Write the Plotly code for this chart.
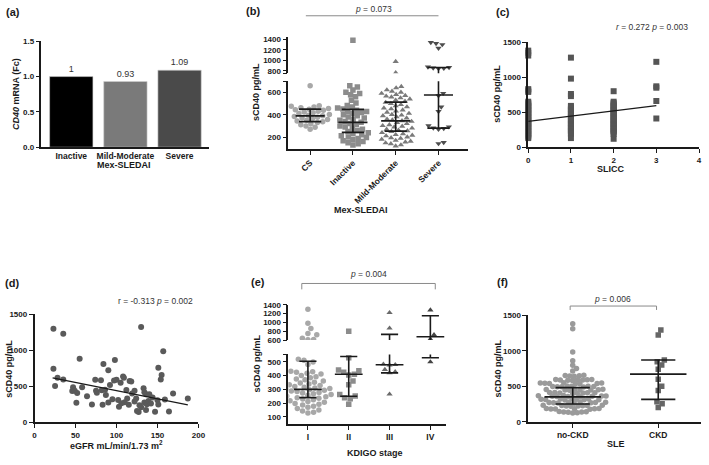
import numpy as np
import plotly.graph_objects as go

W, H = 709, 465
FONT = "Arial, 'Liberation Sans', sans-serif"
INK = "#1a1a1a"

# ---------------- data ----------------
a_groups = ["Inactive", "Mild-Moderate", "Severe"]
a_cd40_fc = [1.0, 0.93, 1.09]

b_groups = ["CS", "Inactive", "Mild-Moderate", "Severe"]
b_cs = [660, 480, 475, 470, 462, 455, 450, 445, 440, 432, 425, 418, 410, 402, 396,
        390, 384, 378, 372, 365, 358, 350, 344, 338, 330, 320, 310, 300, 288, 270]
b_inactive = [1380, 660, 648, 622, 600, 590, 578, 560, 530, 505, 482, 470, 460, 452, 440,
              432, 428, 420, 410, 400, 390, 380, 370, 360, 350, 340, 332, 322, 312, 300,
              290, 280, 270, 260, 250, 240, 232, 222, 212, 202, 196, 188, 178, 168, 160,
              150, 140, 130]
b_mild = [975, 760, 652, 640, 622, 610, 600, 590, 580, 572, 566, 558, 550, 540, 530, 520,
          510, 500, 490, 480, 470, 460, 452, 442, 432, 422, 412, 402, 396, 390, 380, 370,
          360, 352, 346, 340, 330, 320, 310, 302, 296, 290, 280, 270, 262, 256, 250, 240,
          230, 222, 216, 210, 200, 194, 188, 180, 170, 162, 156, 148, 140, 130, 120]
b_severe = [1340, 1320, 1300, 1230, 872, 862, 852, 846, 840, 592, 570, 470, 430, 302, 292,
            282, 278, 270, 152, 142]
b_median = [390, 332, 345, 577]
b_q1 = [338, 242, 253, 280]
b_q3 = [450, 448, 513, 860]

c_slicc_0 = [1380, 1350, 1310, 830, 810, 790, 650, 630, 610, 590, 570, 550, 530, 510, 490,
             470, 450, 430, 410, 390, 370, 350, 330, 310, 290, 270, 250, 230, 210, 190,
             170, 150, 130]
c_slicc_1 = [1280, 980, 760, 730, 590, 570, 550, 530, 510, 490, 470, 450, 430, 410, 390,
             370, 350, 330, 310, 290, 270, 250, 230, 210, 190, 130]
c_slicc_2 = [800, 650, 630, 610, 590, 570, 550, 530, 510, 490, 470, 450, 430, 410, 390,
             370, 350, 330, 310, 290, 270, 250, 230, 210, 190, 120]
c_slicc_3 = [1220, 870, 850, 660, 410]
c_fit_intercept = 370
c_fit_slope = 75
c_fit_x = [0, 3]

d_egfr = [23, 35, 130, 157, 23, 55, 84, 98, 90, 151, 155, 154, 25, 28, 35, 47, 58, 46, 49,
          52, 51, 64, 70, 74, 75, 76, 81, 82, 83, 86, 87, 92, 90, 95, 97, 100, 102, 103,
          105, 108, 109, 112, 113, 115, 116, 118, 110, 106, 119, 122, 122, 124, 128, 125,
          127, 133, 134, 136, 134, 130, 137, 139, 136, 142, 140, 144, 147, 150, 151, 159,
          169, 164, 187]
d_scd40 = [1299, 1230, 1326, 988, 745, 882, 809, 864, 722, 759, 658, 594, 503, 617, 594,
           485, 485, 434, 439, 407, 270, 361, 247, 590, 439, 411, 585, 444, 242, 453, 380,
           517, 274, 320, 581, 590, 311, 215, 549, 636, 617, 448, 329, 242, 572, 567, 279,
           265, 398, 288, 439, 329, 238, 155, 142, 471, 416, 389, 274, 210, 251, 297, 169,
           261, 389, 343, 146, 306, 247, 315, 398, 151, 329]
d_fit_intercept = 668
d_fit_slope = -2.28
d_fit_x = [22, 187]

e_groups = ["I", "II", "III", "IV"]
e_I = [1300, 980, 860, 750, 720, 640, 612, 608, 520, 512, 500, 482, 432, 428, 424, 418,
       412, 402, 392, 384, 376, 370, 362, 352, 346, 340, 334, 328, 322, 316, 310, 306,
       300, 298, 294, 288, 284, 278, 274, 268, 262, 258, 252, 246, 240, 236, 230, 224,
       218, 212, 206, 198, 192, 186, 178, 170, 160, 150, 142, 134, 128]
e_II = [800, 530, 442, 436, 424, 410, 404, 362, 334, 262, 252, 240, 232, 192]
e_III = [1220, 870, 484, 480, 476, 444, 428, 420, 265]
e_IV = [1280, 720, 620, 500]
e_median = [300, 410, 480, 675]
e_q1 = [240, 250, 420, 530]
e_q3 = [505, 540, 730, 1150]

f_groups = ["no-CKD", "CKD"]
f_nockd = [1380, 1310, 980, 860, 795, 750, 715,
           655, 650, 648, 645, 640,
           596, 594, 592, 590, 588, 586, 584, 582,
           548, 546, 544, 542, 540, 538, 536, 534,
           503, 501, 499, 497, 495, 493, 491, 489,
           458, 456, 454, 452, 450, 448, 446, 444,
           413, 411, 409, 407, 405, 403, 401, 399,
           368, 366, 364, 362, 360, 358, 356, 354, 352,
           323, 321, 319, 317, 315, 313, 311, 309, 307,
           278, 276, 274, 272, 270, 268, 266, 264, 262,
           233, 231, 229, 227, 225, 223, 221, 219,
           188, 186, 184, 182, 180, 178, 176,
           143, 141, 139, 137, 135,
           128, 124]
f_ckd = [1290, 1222, 868, 845, 800, 740, 598, 500, 440, 282, 255, 200]
f_median = [350, 670]
f_q1 = [250, 315]
f_q3 = [480, 868]


# ---------------- helpers ----------------
def dom_x(x0, x1):
    return [x0 / W, x1 / W]


def dom_y(top, bot):
    return [1 - bot / H, 1 - top / H]


def swarm(vals, center, ypx, cat_px, d):
    """Deterministic beeswarm: returns x positions (category units)."""
    order = np.argsort(vals, kind="stable")
    placed = []
    out = [0.0] * len(vals)
    for i in order:
        y = ypx(vals[i])
        cands = [0.0]
        for (px, py) in placed:
            dy = abs(py - y)
            if dy < d:
                dx = np.sqrt(d * d - dy * dy)
                cands += [px + dx, px - dx]
        cands.sort(key=lambda c: (round(abs(c), 6), -c))
        chosen = 0.0
        for cx in cands:
            if all((cx - px) ** 2 + (y - py) ** 2 >= d * d - 1e-6 for px, py in placed):
                chosen = cx
                break
        placed.append((chosen, y))
        out[i] = center + chosen / cat_px
    return out


def summary_xy(med, q1, q3, mw, cw):
    xs, ys = [], []
    for c, (m, a, b) in enumerate(zip(med, q1, q3)):
        xs += [c - mw, c + mw, None, c, c, None, c - cw, c + cw, None, c - cw, c + cw, None]
        ys += [m, m, None, a, b, None, a, a, None, b, b, None]
    return xs, ys


fig = go.Figure()

# ---------------- (a) bars ----------------
fig.add_trace(go.Bar(x=list(range(len(a_groups))), y=a_cd40_fc, width=0.8,
                     marker=dict(color=["#000000", "#7a7a7a", "#4a4a4a"],
                                 line=dict(color="#cfcfcf", width=0.6)),
                     text=[f"{v:g}" for v in a_cd40_fc], textposition="outside",
                     textfont=dict(family=FONT, size=9, color="#333333"),
                     cliponaxis=False, xaxis="x", yaxis="y", showlegend=False))

# ---------------- (b) dot plot, broken axis ----------------
b_ypx = lambda v: v * (23 / 200) if v < 725 else 1000 + v * (37.4 / 700)
b_series = [(b_cs, "circle", "#a8a8a8"), (b_inactive, "square", "#8c8c8c"),
            (b_mild, "triangle-up", "#7a7a7a"), (b_severe, "triangle-down", "#4d4d4d")]
for gi, (vals, sym, col) in enumerate(b_series):
    xs = swarm(vals, gi, b_ypx, 43.3, 5.4)
    for ax in (("x2", "y2"), ("x3", "y3")):
        fig.add_trace(go.Scatter(x=xs, y=vals, mode="markers", xaxis=ax[0], yaxis=ax[1],
                                 marker=dict(symbol=sym, size=5.5, color=col),
                                 showlegend=False, cliponaxis=True))
bx, by = summary_xy(b_median, b_q1, b_q3, 0.34, 0.26)
for ax in (("x2", "y2"), ("x3", "y3")):
    fig.add_trace(go.Scatter(x=bx, y=by, mode="lines", xaxis=ax[0], yaxis=ax[1],
                             line=dict(color=INK, width=1.6), showlegend=False))

# ---------------- (c) SLICC ----------------
c_x, c_y = [], []
for score, vals in enumerate([c_slicc_0, c_slicc_1, c_slicc_2, c_slicc_3]):
    c_x += [score] * len(vals)
    c_y += vals
fig.add_trace(go.Scatter(x=c_x, y=c_y, mode="markers", xaxis="x4", yaxis="y4",
                         marker=dict(symbol="square", size=6, color="#555555"),
                         cliponaxis=False, showlegend=False))
fig.add_trace(go.Scatter(x=c_fit_x, y=[c_fit_intercept + c_fit_slope * v for v in c_fit_x],
                         mode="lines", xaxis="x4", yaxis="y4",
                         line=dict(color=INK, width=1.2), showlegend=False))

# ---------------- (d) eGFR ----------------
fig.add_trace(go.Scatter(x=d_egfr, y=d_scd40, mode="markers", xaxis="x5", yaxis="y5",
                         marker=dict(symbol="circle", size=6, color="#5a5a5a"),
                         cliponaxis=False, showlegend=False))
fig.add_trace(go.Scatter(x=d_fit_x, y=[d_fit_intercept + d_fit_slope * v for v in d_fit_x],
                         mode="lines", xaxis="x5", yaxis="y5",
                         line=dict(color=INK, width=1.2), showlegend=False))

# ---------------- (e) KDIGO, broken axis ----------------
e_ypx = lambda v: v * (14 / 100) if v < 580 else 1000 + v * (36 / 800)
e_series = [(e_I, "circle", "#a8a8a8"), (e_II, "square", "#8c8c8c"),
            (e_III, "triangle-up", "#6a6a6a"), (e_IV, "triangle-up", "#444444")]
for gi, (vals, sym, col) in enumerate(e_series):
    xs = swarm(vals, gi, e_ypx, 41.3, 5.8)
    for ax in (("x6", "y6"), ("x7", "y7")):
        fig.add_trace(go.Scatter(x=xs, y=vals, mode="markers", xaxis=ax[0], yaxis=ax[1],
                                 marker=dict(symbol=sym, size=5.5, color=col),
                                 showlegend=False))
ex, ey = summary_xy(e_median, e_q1, e_q3, 0.34, 0.21)
for ax in (("x6", "y6"), ("x7", "y7")):
    fig.add_trace(go.Scatter(x=ex, y=ey, mode="lines", xaxis=ax[0], yaxis=ax[1],
                             line=dict(color=INK, width=1.6), showlegend=False))

# ---------------- (f) CKD ----------------
f_ypx = lambda v: v * (36.3 / 500)
for gi, (vals, sym, col, dd) in enumerate([(f_nockd, "circle", "#9a9a9a", 4.6),
                                            (f_ckd, "square", "#666666", 5.6)]):
    xs = swarm(vals, gi, f_ypx, 86.7, dd)
    fig.add_trace(go.Scatter(x=xs, y=vals, mode="markers", xaxis="x8", yaxis="y8",
                             marker=dict(symbol=sym, size=5.5, color=col),
                             showlegend=False))
fx, fy = summary_xy(f_median, f_q1, f_q3, 0.33, 0.2)
fig.add_trace(go.Scatter(x=fx, y=fy, mode="lines", xaxis="x8", yaxis="y8",
                         line=dict(color=INK, width=1.6), showlegend=False))

# ---------------- axes ----------------
tickfont = dict(family=FONT, size=8, color=INK, weight="bold")
catfont = dict(family=FONT, size=8.5, color=INK, weight="bold")


def axis(domain, rng, anchor, **kw):
    d = dict(domain=domain, range=rng, anchor=anchor, showgrid=False, zeroline=False,
             showline=True, linecolor=INK, linewidth=1.5, ticks="outside", ticklen=4,
             tickwidth=1.3, tickcolor=INK, tickfont=tickfont)
    d.update(kw)
    return d


fig.update_layout(
    width=W, height=H, margin=dict(l=0, r=0, t=0, b=0), autosize=False,
    paper_bgcolor="white", plot_bgcolor="white", showlegend=False,
    # (a)
    xaxis=axis(dom_x(40, 210), [-0.55, 2.55], "y", tickvals=[0, 1, 2], ticktext=a_groups,
               ticks="", tickfont=catfont),
    yaxis=axis(dom_y(38, 146), [0, 1.5], "x", tickvals=[0, 0.5, 1.0, 1.5], tickformat=".1f"),
    # (b)
    xaxis2=axis(dom_x(290, 472), [-0.51, 3.69], "y2", tickvals=[0, 1, 2, 3],
                ticktext=b_groups, tickangle=-45, tickfont=catfont),
    yaxis2=axis(dom_y(78.7, 147.7), [95, 700], "x2", tickvals=[200, 400, 600, 700],
                ticktext=["200", "400", "600", ""]),
    xaxis3=axis(dom_x(290, 472), [-0.51, 3.69], "y3", visible=False),
    yaxis3=axis(dom_y(33.3, 70.7), [750, 1450], "x3", tickvals=[750, 800, 1000, 1200, 1400],
                ticktext=["", "800", "1000", "1200", "1400"]),
    # (c)
    xaxis4=axis(dom_x(533, 706), [0, 4], "y4", dtick=1),
    yaxis4=axis(dom_y(39, 146), [0, 1500], "x4", dtick=500),
    # (d)
    xaxis5=axis(dom_x(33, 199), [0, 200], "y5", dtick=50),
    yaxis5=axis(dom_y(316.5, 426.5), [0, 1500], "x5", dtick=500),
    # (e)
    xaxis6=axis(dom_x(290, 450), [-0.48, 3.39], "y6", tickvals=[0, 1, 2, 3],
                ticktext=e_groups, tickfont=catfont),
    yaxis6=axis(dom_y(357.3, 428.3), [48, 555], "x6", tickvals=[100, 200, 300, 400, 500, 555],
                ticktext=["100", "200", "300", "400", "500", ""]),
    xaxis7=axis(dom_x(290, 450), [-0.48, 3.39], "y7", visible=False),
    yaxis7=axis(dom_y(306.7, 342.7), [600, 1400], "x7", tickvals=[600, 800, 1000, 1200, 1400]),
    # (f)
    xaxis8=axis(dom_x(533, 708), [-0.52, 1.5], "y8", tickvals=[0, 1], ticktext=f_groups,
                tickfont=catfont),
    yaxis8=axis(dom_y(317.3, 426), [0, 1500], "x8", dtick=500),
)


# ---------------- text ----------------
def txt(s, x, y, size=9, bold=True, xanchor="center", angle=0, color=INK):
    fig.add_annotation(text=s, x=x / W, y=1 - y / H, xref="paper", yref="paper",
                       showarrow=False, xanchor=xanchor, yanchor="middle", textangle=angle,
                       font=dict(family=FONT, size=size, color=color,
                                 weight="bold" if bold else "normal"))


# panel labels
for lab, x, y in [("(a)", 11, 8), ("(b)", 254, 7), ("(c)", 507, 8),
                  ("(d)", 10, 285), ("(e)", 259, 283), ("(f)", 507, 283)]:
    txt(lab, x, y, size=11)

# axis titles
txt("<i>CD40</i> mRNA (Fc)", 14, 92, angle=-90)
txt("Mex-SLEDAI", 124, 164)
txt("sCD40 pg/mL", 258, 90, angle=-90)
txt("Mex-SLEDAI", 364, 210)
txt("sCD40 pg/mL", 502, 92, angle=-90)
txt("SLICC", 617, 168)
txt("sCD40 pg/mL", 7, 372, angle=-90)
txt("eGFR mL/min/1.73 m<sup>2</sup>", 116, 450)
txt("sCD40 pg/mL", 258, 367, angle=-90)
txt("KDIGO stage", 378, 458)
txt("sCD40 pg/mL", 502, 372, angle=-90)
txt("SLE", 622, 449)

# statistics
txt("<i>p</i> = 0.073", 376, 5, size=8.5, bold=False, color="#333333")
txt("<i>r</i> = 0.272 <i>p</i> = 0.003", 697, 23, size=8.5, bold=False, xanchor="right",
    color="#333333")
txt("r = -0.313 <i>p</i> = 0.002", 155, 303, size=8.5, bold=False, color="#333333")
txt("<i>p</i> = 0.004", 371, 275, size=8.5, bold=False, color="#333333")
txt("<i>p</i> = 0.006", 618, 301, size=8.5, bold=False, color="#333333")

# comparison brackets
GR = dict(color="#8a8a8a", width=1)
fig.add_shape(type="line", xref="x2", yref="paper", x0=-0.1, x1=3.0,
              y0=1 - 12 / H, y1=1 - 12 / H, line=GR)
for (xr, xa, xb, ytop, ybot) in [("x6", -0.15, 3.12, 285, 291), ("x8", -0.03, 0.98, 308, 312)]:
    fig.add_shape(type="line", xref=xr, yref="paper", x0=xa, x1=xb,
                  y0=1 - ytop / H, y1=1 - ytop / H, line=GR)
    for xv in (xa, xb):
        fig.add_shape(type="line", xref=xr, yref="paper", x0=xv, x1=xv,
                      y0=1 - ytop / H, y1=1 - ybot / H, line=GR)

fig.write_html("out.html", config={"displayModeBar": False},
               post_script="document.body.style.margin='0px';"
                           "document.body.style.overflow='hidden';")
